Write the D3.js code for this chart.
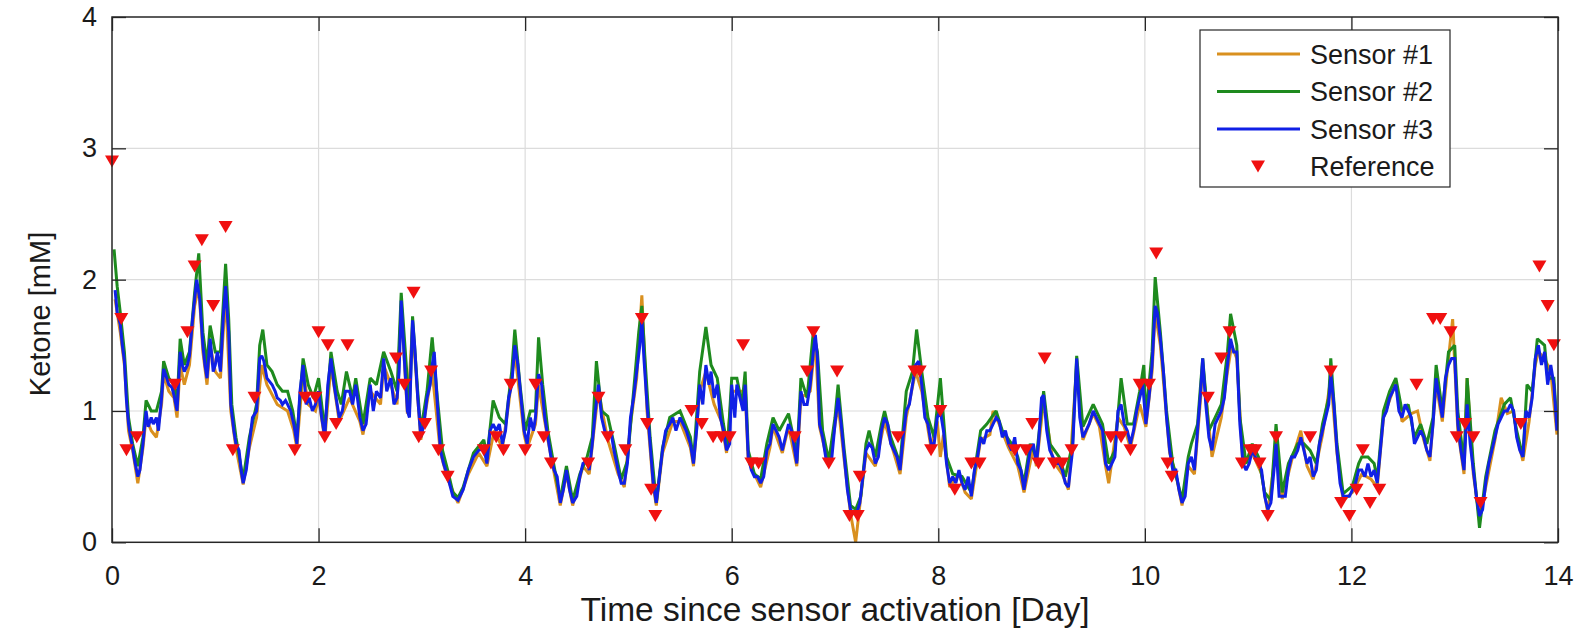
<!DOCTYPE html>
<html><head><meta charset="utf-8">
<script src="https://cdn.jsdelivr.net/npm/d3@7"></script>
<style>html,body{margin:0;padding:0;background:#fff;}svg{display:block;font-family:"Liberation Sans",Arial,sans-serif;}</style>
</head><body><svg id="chart" width="1579" height="640"></svg>
<script>
// ---- data (day, ketone mM) ----
const sensor3 = [[0.03,1.92],[0.05,1.75],[0.08,1.66],[0.1,1.5],[0.12,1.38],[0.14,1.08],[0.16,0.9],[0.18,0.8],[0.2,0.72],[0.22,0.62],[0.25,0.5],[0.27,0.55],[0.3,0.75],[0.33,1.0],[0.35,0.88],[0.38,0.95],[0.4,0.9],[0.43,0.95],[0.45,0.85],[0.48,1.1],[0.5,1.32],[0.53,1.25],[0.55,1.2],[0.58,1.18],[0.6,1.12],[0.63,1.0],[0.66,1.45],[0.68,1.35],[0.7,1.3],[0.73,1.35],[0.75,1.42],[0.78,1.7],[0.8,1.85],[0.82,2.0],[0.85,1.85],[0.88,1.5],[0.9,1.35],[0.92,1.25],[0.95,1.55],[0.98,1.3],[1.0,1.35],[1.02,1.45],[1.05,1.3],[1.08,1.75],[1.1,1.95],[1.12,1.7],[1.13,1.6],[1.15,1.05],[1.18,0.85],[1.2,0.75],[1.23,0.7],[1.25,0.55],[1.27,0.45],[1.3,0.55],[1.33,0.75],[1.36,0.95],[1.4,1.0],[1.43,1.4],[1.45,1.42],[1.47,1.38],[1.5,1.25],[1.53,1.22],[1.55,1.2],[1.58,1.15],[1.6,1.1],[1.63,1.08],[1.65,1.05],[1.68,1.08],[1.7,1.05],[1.73,1.0],[1.76,0.9],[1.79,0.75],[1.82,1.15],[1.85,1.35],[1.88,1.05],[1.91,1.1],[1.94,1.0],[1.97,1.05],[2.0,1.15],[2.03,0.95],[2.06,0.8],[2.09,1.2],[2.12,1.4],[2.15,1.2],[2.18,1.05],[2.2,0.95],[2.23,1.0],[2.26,1.15],[2.3,1.15],[2.33,1.05],[2.36,1.2],[2.4,0.95],[2.43,0.85],[2.46,0.9],[2.5,1.2],[2.53,1.0],[2.56,1.15],[2.6,1.1],[2.63,1.4],[2.66,1.15],[2.7,1.25],[2.73,1.05],[2.76,1.1],[2.78,1.3],[2.8,1.84],[2.83,1.4],[2.86,1.0],[2.88,0.95],[2.91,1.69],[2.93,1.5],[2.96,1.1],[2.99,0.8],[3.02,0.9],[3.05,1.1],[3.08,1.2],[3.1,1.35],[3.12,1.45],[3.15,1.05],[3.18,0.7],[3.21,0.6],[3.25,0.5],[3.3,0.35],[3.35,0.32],[3.4,0.4],[3.45,0.55],[3.5,0.65],[3.55,0.7],[3.6,0.72],[3.63,0.6],[3.66,0.85],[3.69,0.9],[3.72,0.85],[3.75,0.9],[3.78,0.75],[3.81,0.85],[3.84,1.1],[3.87,1.2],[3.9,1.5],[3.93,1.35],[3.96,1.1],[3.99,0.85],[4.02,0.75],[4.05,0.95],[4.08,0.85],[4.1,0.95],[4.13,1.28],[4.16,1.2],[4.19,0.95],[4.22,0.8],[4.25,0.65],[4.28,0.55],[4.31,0.5],[4.34,0.3],[4.37,0.4],[4.4,0.55],[4.43,0.4],[4.46,0.3],[4.5,0.35],[4.53,0.5],[4.56,0.6],[4.6,0.62],[4.62,0.55],[4.65,0.75],[4.68,1.0],[4.71,1.2],[4.74,0.95],[4.77,0.85],[4.8,0.8],[4.83,0.85],[4.86,0.7],[4.9,0.55],[4.93,0.45],[4.96,0.45],[4.99,0.6],[5.02,0.95],[5.05,1.1],[5.08,1.3],[5.11,1.5],[5.13,1.7],[5.15,1.4],[5.18,1.05],[5.21,0.75],[5.24,0.45],[5.27,0.3],[5.3,0.5],[5.33,0.7],[5.36,0.85],[5.4,0.9],[5.43,0.95],[5.46,0.85],[5.5,0.95],[5.53,0.9],[5.56,0.85],[5.6,0.75],[5.63,0.6],[5.66,0.85],[5.69,1.2],[5.72,1.05],[5.75,1.35],[5.78,1.2],[5.8,1.3],[5.83,1.1],[5.86,1.2],[5.89,0.95],[5.92,0.85],[5.95,0.7],[5.98,0.75],[6.0,1.2],[6.03,0.95],[6.05,1.2],[6.08,1.1],[6.11,1.0],[6.13,1.2],[6.16,0.65],[6.19,0.55],[6.22,0.5],[6.25,0.5],[6.28,0.45],[6.31,0.5],[6.34,0.7],[6.37,0.75],[6.4,0.9],[6.43,0.85],[6.46,0.8],[6.49,0.7],[6.52,0.8],[6.55,0.9],[6.58,0.85],[6.61,0.7],[6.63,0.6],[6.67,1.15],[6.7,1.05],[6.73,1.05],[6.76,1.2],[6.79,1.45],[6.81,1.58],[6.83,1.4],[6.85,0.9],[6.88,0.8],[6.91,0.65],[6.94,0.6],[6.97,0.65],[7.0,0.9],[7.03,1.1],[7.06,0.9],[7.09,0.65],[7.12,0.4],[7.15,0.25],[7.18,0.22],[7.21,0.22],[7.24,0.3],[7.27,0.5],[7.3,0.7],[7.33,0.75],[7.36,0.72],[7.39,0.6],[7.42,0.65],[7.45,0.85],[7.48,0.95],[7.51,0.9],[7.54,0.75],[7.57,0.7],[7.6,0.65],[7.63,0.55],[7.66,0.8],[7.69,1.0],[7.72,1.05],[7.75,1.2],[7.78,1.35],[7.81,1.38],[7.84,1.2],[7.87,0.95],[7.9,0.9],[7.93,0.75],[7.96,0.75],[7.99,0.95],[8.02,1.0],[8.05,0.85],[8.08,0.6],[8.11,0.45],[8.14,0.5],[8.17,0.45],[8.2,0.55],[8.23,0.45],[8.26,0.4],[8.29,0.5],[8.32,0.35],[8.35,0.55],[8.38,0.65],[8.41,0.8],[8.44,0.75],[8.47,0.85],[8.5,0.85],[8.53,0.9],[8.56,0.95],[8.59,0.92],[8.62,0.8],[8.65,0.85],[8.68,0.75],[8.71,0.7],[8.74,0.8],[8.77,0.6],[8.8,0.55],[8.83,0.4],[8.86,0.55],[8.89,0.7],[8.92,0.75],[8.95,0.6],[8.97,0.75],[9.0,1.1],[9.02,1.12],[9.05,0.85],[9.08,0.7],[9.11,0.65],[9.14,0.6],[9.17,0.6],[9.2,0.55],[9.23,0.45],[9.26,0.42],[9.3,0.7],[9.34,1.4],[9.37,0.95],[9.4,0.8],[9.43,0.85],[9.46,0.9],[9.5,1.0],[9.53,0.95],[9.56,0.9],[9.59,0.85],[9.62,0.6],[9.65,0.55],[9.68,0.6],[9.71,0.65],[9.74,1.0],[9.77,1.05],[9.8,0.9],[9.83,0.85],[9.86,0.75],[9.89,0.85],[9.92,1.0],[9.95,1.1],[9.98,1.2],[10.01,0.9],[10.04,1.1],[10.07,1.35],[10.1,1.8],[10.12,1.75],[10.15,1.55],[10.18,1.3],[10.21,0.95],[10.24,0.7],[10.27,0.55],[10.3,0.55],[10.33,0.4],[10.36,0.3],[10.39,0.35],[10.42,0.6],[10.45,0.65],[10.48,0.55],[10.51,0.85],[10.54,1.15],[10.56,1.4],[10.59,1.05],[10.62,0.8],[10.65,0.7],[10.68,0.9],[10.71,0.95],[10.74,1.0],[10.77,1.1],[10.8,1.35],[10.83,1.55],[10.86,1.45],[10.89,1.45],[10.92,0.9],[10.95,0.6],[10.98,0.55],[11.01,0.6],[11.04,0.7],[11.07,0.65],[11.1,0.6],[11.13,0.55],[11.16,0.35],[11.19,0.25],[11.22,0.3],[11.25,0.55],[11.27,0.75],[11.3,0.35],[11.33,0.35],[11.36,0.35],[11.39,0.55],[11.42,0.65],[11.45,0.65],[11.48,0.7],[11.51,0.8],[11.54,0.7],[11.57,0.6],[11.6,0.65],[11.63,0.5],[11.66,0.55],[11.69,0.75],[11.72,0.85],[11.75,0.95],[11.78,1.05],[11.8,1.28],[11.83,1.05],[11.86,0.7],[11.89,0.45],[11.92,0.35],[11.95,0.35],[11.98,0.35],[12.01,0.4],[12.04,0.45],[12.07,0.55],[12.1,0.55],[12.13,0.5],[12.16,0.6],[12.19,0.5],[12.22,0.55],[12.25,0.45],[12.28,0.7],[12.31,0.95],[12.34,1.0],[12.37,1.1],[12.4,1.15],[12.43,1.2],[12.46,1.0],[12.49,0.95],[12.52,1.05],[12.55,1.0],[12.58,0.95],[12.61,0.75],[12.64,0.8],[12.67,0.85],[12.7,0.8],[12.73,0.7],[12.76,0.65],[12.79,0.9],[12.82,1.25],[12.85,1.1],[12.88,0.95],[12.91,1.25],[12.94,1.35],[12.97,1.4],[13.0,1.4],[13.03,0.9],[13.06,0.7],[13.09,0.55],[13.12,1.05],[13.15,0.75],[13.18,0.55],[13.21,0.35],[13.24,0.2],[13.27,0.25],[13.3,0.45],[13.33,0.6],[13.36,0.7],[13.39,0.8],[13.42,0.9],[13.45,0.95],[13.48,1.0],[13.51,1.0],[13.54,1.05],[13.57,1.0],[13.6,0.8],[13.63,0.7],[13.66,0.65],[13.69,1.0],[13.72,0.95],[13.75,1.1],[13.78,1.4],[13.81,1.5],[13.84,1.35],[13.87,1.45],[13.9,1.2],[13.93,1.35],[13.96,1.2],[13.99,0.85]];

const sensor2 = [[0.02,2.23],[0.05,1.95],[0.08,1.75],[0.12,1.45],[0.16,0.95],[0.2,0.75],[0.25,0.58],[0.3,0.8],[0.33,1.08],[0.38,1.0],[0.43,1.0],[0.48,1.15],[0.5,1.38],[0.55,1.25],[0.6,1.2],[0.63,1.05],[0.66,1.55],[0.7,1.35],[0.75,1.45],[0.8,1.9],[0.84,2.2],[0.88,1.6],[0.92,1.35],[0.95,1.65],[1.0,1.45],[1.05,1.45],[1.08,1.85],[1.1,2.12],[1.13,1.7],[1.16,1.05],[1.2,0.8],[1.27,0.48],[1.33,0.8],[1.4,1.05],[1.43,1.5],[1.46,1.62],[1.5,1.35],[1.55,1.3],[1.6,1.2],[1.65,1.15],[1.7,1.15],[1.75,1.0],[1.79,0.8],[1.85,1.4],[1.9,1.2],[1.95,1.1],[2.0,1.25],[2.06,0.85],[2.12,1.45],[2.18,1.15],[2.22,1.05],[2.27,1.3],[2.33,1.1],[2.36,1.25],[2.43,0.9],[2.5,1.25],[2.56,1.2],[2.63,1.45],[2.7,1.3],[2.76,1.15],[2.8,1.9],[2.84,1.45],[2.88,1.0],[2.91,1.72],[2.96,1.15],[2.99,0.85],[3.05,1.15],[3.1,1.56],[3.15,1.1],[3.2,0.7],[3.25,0.55],[3.3,0.38],[3.35,0.34],[3.4,0.42],[3.5,0.68],[3.6,0.78],[3.63,0.65],[3.69,1.08],[3.75,0.95],[3.81,0.9],[3.87,1.3],[3.9,1.62],[3.95,1.2],[4.0,0.85],[4.05,1.0],[4.1,1.0],[4.13,1.56],[4.17,1.2],[4.22,0.85],[4.28,0.58],[4.34,0.33],[4.4,0.58],[4.46,0.32],[4.53,0.52],[4.6,0.65],[4.65,0.8],[4.69,1.38],[4.74,1.0],[4.8,0.96],[4.86,0.75],[4.93,0.48],[4.99,0.62],[5.05,1.15],[5.1,1.6],[5.13,1.8],[5.16,1.4],[5.21,0.8],[5.27,0.3],[5.33,0.72],[5.4,0.95],[5.5,1.0],[5.6,0.8],[5.63,0.62],[5.69,1.3],[5.75,1.64],[5.8,1.35],[5.86,1.25],[5.92,0.9],[5.96,0.72],[6.0,1.25],[6.05,1.25],[6.1,1.05],[6.13,1.3],[6.16,0.7],[6.22,0.52],[6.28,0.48],[6.34,0.75],[6.4,0.95],[6.46,0.85],[6.55,0.98],[6.61,0.75],[6.63,0.62],[6.67,1.25],[6.73,1.1],[6.79,1.6],[6.83,1.45],[6.88,0.85],[6.94,0.62],[7.0,0.95],[7.03,1.2],[7.09,0.7],[7.15,0.28],[7.2,0.25],[7.25,0.35],[7.3,0.75],[7.33,0.85],[7.39,0.65],[7.45,0.9],[7.48,1.0],[7.54,0.8],[7.63,0.6],[7.69,1.15],[7.75,1.3],[7.79,1.62],[7.84,1.3],[7.9,0.95],[7.96,0.8],[8.02,1.25],[8.08,0.65],[8.14,0.52],[8.23,0.5],[8.32,0.38],[8.41,0.85],[8.47,0.9],[8.56,1.0],[8.62,0.85],[8.71,0.75],[8.77,0.65],[8.83,0.45],[8.89,0.75],[8.95,0.65],[9.02,1.15],[9.08,0.75],[9.17,0.65],[9.23,0.5],[9.3,0.75],[9.34,1.42],[9.4,0.88],[9.5,1.05],[9.59,0.9],[9.65,0.6],[9.71,0.7],[9.77,1.25],[9.83,0.9],[9.89,0.9],[9.95,1.15],[9.99,1.35],[10.01,0.95],[10.07,1.45],[10.1,2.02],[10.15,1.6],[10.21,1.0],[10.27,0.6],[10.33,0.42],[10.36,0.32],[10.42,0.65],[10.45,0.75],[10.51,0.9],[10.56,1.4],[10.62,0.85],[10.68,0.95],[10.74,1.05],[10.8,1.45],[10.83,1.74],[10.89,1.5],[10.92,0.95],[10.98,0.6],[11.04,0.75],[11.1,0.65],[11.16,0.38],[11.22,0.32],[11.27,0.9],[11.33,0.38],[11.39,0.6],[11.48,0.75],[11.54,0.75],[11.6,0.7],[11.66,0.6],[11.72,0.9],[11.78,1.1],[11.8,1.4],[11.86,0.75],[11.92,0.37],[12.01,0.43],[12.07,0.6],[12.1,0.65],[12.16,0.65],[12.22,0.6],[12.25,0.48],[12.31,1.0],[12.37,1.15],[12.43,1.25],[12.49,1.0],[12.55,1.05],[12.61,0.8],[12.67,0.9],[12.73,0.75],[12.79,0.95],[12.82,1.35],[12.88,1.0],[12.94,1.45],[13.0,1.5],[13.03,1.0],[13.09,0.6],[13.12,1.25],[13.18,0.6],[13.24,0.11],[13.3,0.5],[13.39,0.85],[13.48,1.05],[13.54,1.1],[13.6,0.85],[13.66,0.65],[13.7,1.2],[13.75,1.15],[13.8,1.55],[13.87,1.5],[13.9,1.25],[13.96,1.25],[13.99,0.9]];

const sensor1 = [[0.03,1.85],[0.08,1.6],[0.12,1.35],[0.16,0.85],[0.2,0.7],[0.25,0.45],[0.3,0.72],[0.33,0.95],[0.38,0.85],[0.43,0.8],[0.48,1.05],[0.5,1.28],[0.55,1.15],[0.6,1.1],[0.63,0.95],[0.66,1.35],[0.7,1.2],[0.75,1.35],[0.8,1.8],[0.84,1.95],[0.88,1.45],[0.92,1.2],[0.95,1.5],[1.0,1.3],[1.05,1.25],[1.1,1.9],[1.15,1.0],[1.2,0.72],[1.27,0.44],[1.33,0.72],[1.4,0.95],[1.45,1.35],[1.5,1.2],[1.6,1.05],[1.7,1.0],[1.76,0.85],[1.79,0.72],[1.85,1.3],[1.9,1.05],[1.97,1.0],[2.0,1.1],[2.06,0.78],[2.12,1.35],[2.2,0.92],[2.3,1.1],[2.4,0.92],[2.43,0.82],[2.5,1.15],[2.6,1.05],[2.63,1.35],[2.7,1.2],[2.76,1.05],[2.8,1.8],[2.86,0.98],[2.91,1.65],[2.99,0.78],[3.1,1.3],[3.18,0.68],[3.25,0.48],[3.35,0.3],[3.45,0.52],[3.55,0.68],[3.63,0.58],[3.7,0.85],[3.78,0.72],[3.84,1.05],[3.9,1.45],[3.99,0.82],[4.02,0.72],[4.1,0.9],[4.13,1.2],[4.22,0.78],[4.34,0.28],[4.4,0.52],[4.46,0.28],[4.56,0.58],[4.62,0.52],[4.68,0.95],[4.71,1.15],[4.8,0.78],[4.9,0.52],[4.96,0.42],[5.02,0.9],[5.08,1.25],[5.13,1.88],[5.18,1.0],[5.24,0.42],[5.27,0.28],[5.33,0.68],[5.43,0.92],[5.5,0.92],[5.6,0.72],[5.63,0.58],[5.69,1.15],[5.75,1.3],[5.83,1.05],[5.9,0.92],[5.95,0.68],[6.0,1.15],[6.05,1.15],[6.13,1.15],[6.16,0.62],[6.28,0.42],[6.37,0.72],[6.4,0.88],[6.49,0.68],[6.55,0.88],[6.63,0.58],[6.67,1.1],[6.76,1.15],[6.81,1.55],[6.85,0.88],[6.94,0.58],[7.03,1.05],[7.09,0.62],[7.15,0.22],[7.2,0.0],[7.24,0.28],[7.3,0.68],[7.39,0.58],[7.48,0.92],[7.57,0.68],[7.63,0.52],[7.69,0.95],[7.78,1.3],[7.84,1.15],[7.93,0.72],[7.99,0.92],[8.02,0.65],[8.05,0.82],[8.11,0.42],[8.2,0.52],[8.26,0.38],[8.32,0.33],[8.41,0.78],[8.5,0.82],[8.53,1.0],[8.59,0.9],[8.68,0.72],[8.77,0.58],[8.83,0.38],[8.92,0.72],[8.95,0.58],[9.02,1.08],[9.11,0.62],[9.2,0.52],[9.26,0.4],[9.34,1.35],[9.4,0.78],[9.5,0.98],[9.56,0.88],[9.62,0.58],[9.65,0.45],[9.74,0.95],[9.8,0.88],[9.86,0.72],[9.95,1.05],[10.01,0.88],[10.07,1.3],[10.1,1.75],[10.15,1.5],[10.24,0.68],[10.3,0.52],[10.36,0.28],[10.42,0.58],[10.48,0.52],[10.54,1.1],[10.56,1.35],[10.65,0.65],[10.74,0.95],[10.8,1.3],[10.84,1.5],[10.89,1.4],[10.95,0.58],[11.04,0.68],[11.13,0.52],[11.19,0.22],[11.27,0.72],[11.33,0.33],[11.42,0.62],[11.51,0.85],[11.57,0.58],[11.63,0.48],[11.72,0.82],[11.8,1.25],[11.86,0.68],[11.92,0.32],[12.01,0.38],[12.1,0.52],[12.19,0.48],[12.25,0.42],[12.31,0.95],[12.4,1.15],[12.43,1.22],[12.49,0.92],[12.58,0.98],[12.64,1.0],[12.7,0.78],[12.76,0.62],[12.82,1.2],[12.88,0.92],[12.94,1.4],[12.98,1.7],[13.03,0.85],[13.09,0.52],[13.12,1.25],[13.18,0.52],[13.24,0.18],[13.3,0.42],[13.39,0.78],[13.45,1.1],[13.51,0.98],[13.57,1.0],[13.6,0.82],[13.66,0.62],[13.72,0.92],[13.78,1.35],[13.81,1.45],[13.87,1.4],[13.93,1.3],[13.99,0.82]];

const referenceDays = [0.0,0.09,0.14,0.24,0.61,0.73,0.80,0.87,0.98,1.10,1.17,1.38,1.77,1.87,1.97,2.00,2.06,2.09,2.17,2.28,2.75,2.83,2.92,2.97,3.03,3.09,3.16,3.25,3.60,3.72,3.79,3.86,4.00,4.10,4.18,4.25,4.61,4.71,4.80,4.97,5.13,5.18,5.22,5.26,5.61,5.71,5.82,5.90,5.98,6.11,6.19,6.26,6.61,6.73,6.79,6.94,7.02,7.14,7.22,7.24,7.61,7.77,7.82,7.93,8.02,8.16,8.32,8.40,8.74,8.85,8.91,8.97,9.03,9.12,9.20,9.29,9.67,9.77,9.86,9.95,10.04,10.11,10.22,10.26,10.61,10.74,10.82,10.94,11.02,11.07,11.11,11.19,11.27,11.60,11.80,11.90,11.98,12.05,12.11,12.18,12.27,12.63,12.79,12.86,12.96,13.02,13.10,13.18,13.25,13.64,13.82,13.90,13.96];
const referenceValues = [2.9,1.7,0.7,0.8,1.2,1.6,2.1,2.3,1.8,2.4,0.7,1.1,0.7,1.1,1.1,1.6,0.8,1.5,0.9,1.5,1.4,1.2,1.9,0.8,0.9,1.3,0.7,0.5,0.7,0.8,0.7,1.2,0.7,1.2,0.8,0.6,0.6,1.1,0.8,0.7,1.7,0.9,0.4,0.2,1.0,0.9,0.8,0.8,0.8,1.5,0.6,0.6,0.8,1.3,1.6,0.6,1.3,0.2,0.2,0.5,0.8,1.3,1.3,0.7,1.0,0.4,0.6,0.6,0.7,0.7,0.9,0.6,1.4,0.6,0.6,0.7,0.8,0.8,0.7,1.2,1.2,2.2,0.6,0.5,1.1,1.4,1.6,0.6,0.7,0.7,0.6,0.2,0.8,0.8,1.3,0.3,0.2,0.4,0.7,0.3,0.4,1.2,1.7,1.7,1.6,0.8,0.9,0.8,0.3,0.9,2.1,1.8,1.5];

const xTicks = [0,2,4,6,8,10,12,14];
const yTicks = [0,1,2,3,4];
const seriesNames = ["Sensor #1","Sensor #2","Sensor #3","Reference"];
const seriesColors = ["#D9901F","#1E8A1E","#1020E6","#F01010"];
const xTitle = "Time since sensor activation [Day]";
const yTitle = "Ketone [mM]";

// ---- layout ----
const L = 112, R = 1558, T = 17, B = 542.3;
const svg = d3.select("#chart");
const x = d3.scaleLinear().domain([0,14]).range([L,R]);
const y = d3.scaleLinear().domain([0,4]).range([B,T]);

// grid
const g = svg.append("g");
g.selectAll(".vg").data(xTicks.slice(1,-1)).join("line")
  .attr("x1",d=>x(d)).attr("x2",d=>x(d)).attr("y1",T).attr("y2",B)
  .attr("stroke","#dcdcdc").attr("stroke-width",1.2);
g.selectAll(".hg").data(yTicks.slice(1,-1)).join("line")
  .attr("x1",L).attr("x2",R).attr("y1",d=>y(d)).attr("y2",d=>y(d))
  .attr("stroke","#dcdcdc").attr("stroke-width",1.2);

// lines
svg.append("clipPath").attr("id","clip").append("rect")
  .attr("x",L).attr("y",T).attr("width",R-L).attr("height",B-T+2);
const line = d3.line().x(d=>x(d[0])).y(d=>y(d[1]));
const lines = svg.append("g").attr("clip-path","url(#clip)");
[sensor1,sensor2,sensor3].forEach((s,i)=>{
  lines.append("path").datum(s).attr("d",line)
    .attr("fill","none").attr("stroke",seriesColors[i])
    .attr("stroke-width",3).attr("stroke-linejoin","miter").attr("stroke-miterlimit",2);
});

// reference markers
const tri = "M-7,-6L7,-6L0,6Z";
svg.append("g").selectAll("path").data(referenceDays.map((d,i)=>[d,referenceValues[i]])).join("path")
  .attr("d",tri).attr("transform",d=>`translate(${x(d[0])},${y(d[1])})`)
  .attr("fill",seriesColors[3]);

// axes box
const axisG = svg.append("g");
const xAxis = d3.axisBottom(x).tickValues(xTicks).tickSize(-14).tickPadding(24).tickFormat(d3.format("d"));
const xAxisTop = d3.axisTop(x).tickValues(xTicks).tickSize(-14).tickFormat("");
const yAxis = d3.axisLeft(y).tickValues(yTicks).tickSize(-14).tickPadding(15).tickFormat(d3.format("d"));
const yAxisR = d3.axisRight(y).tickValues(yTicks).tickSize(-14).tickFormat("");
function style(sel){
  sel.selectAll(".tick line").attr("stroke","#262626").attr("stroke-width",1.3);
  sel.selectAll(".tick text").attr("fill","#1a1a1a").attr("font-size",27).attr("font-family","Liberation Sans, Arial, sans-serif");
}
axisG.append("g").attr("transform",`translate(0,${B})`).call(xAxis).call(style);
axisG.append("g").attr("transform",`translate(0,${T})`).call(xAxisTop).call(style);
axisG.append("g").attr("transform",`translate(${L},0)`).call(yAxis).call(style);
axisG.append("g").attr("transform",`translate(${R},0)`).call(yAxisR).call(style);
axisG.selectAll(".domain").remove();
axisG.append("rect").attr("x",L).attr("y",T).attr("width",R-L).attr("height",B-T)
  .attr("fill","none").attr("stroke","#262626").attr("stroke-width",1.5);

// titles
svg.append("text").attr("x",(L+R)/2).attr("y",621).attr("text-anchor","middle")
  .attr("font-size",33.5).attr("fill","#1a1a1a").text(xTitle);
svg.append("text").attr("transform",`translate(50,314) rotate(-90)`).attr("text-anchor","middle")
  .attr("font-size",29).attr("fill","#1a1a1a").text(yTitle);

// legend
const lg = svg.append("g");
lg.append("rect").attr("x",1200).attr("y",30).attr("width",250).attr("height",157)
  .attr("fill","#fff").attr("stroke","#262626").attr("stroke-width",1.2);
seriesNames.forEach((n,i)=>{
  const yy = 54 + i*37.5;
  if(i<3){
    lg.append("line").attr("x1",1217).attr("x2",1300).attr("y1",yy).attr("y2",yy)
      .attr("stroke",seriesColors[i]).attr("stroke-width",3);
  } else {
    lg.append("path").attr("d",tri).attr("transform",`translate(1258,${yy})`).attr("fill",seriesColors[3]);
  }
  lg.append("text").attr("x",1310).attr("y",yy+9.5).attr("font-size",27).attr("fill","#1a1a1a").text(n);
});
</script></body></html>
